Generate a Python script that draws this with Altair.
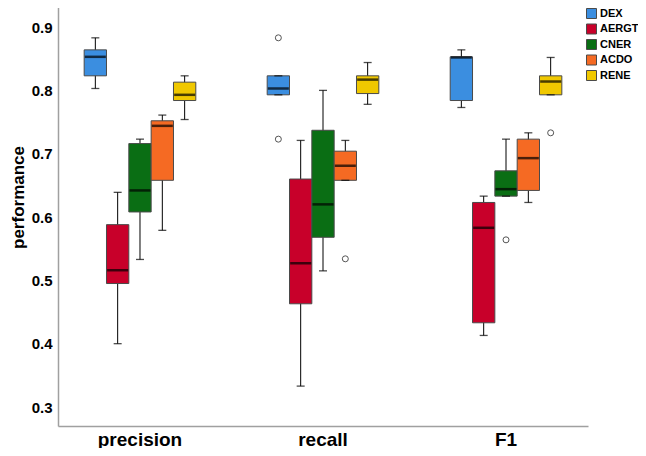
import altair as alt
import pandas as pd

metrics = ["precision", "recall", "F1"]
models = ["DEX", "AERGT", "CNER", "ACDO", "RENE"]
colors = ["#3b8ee0", "#c8002a", "#0a6e14", "#f56a23", "#f0c800"]

# order: precision(DEX..RENE), recall(DEX..RENE), F1(DEX..RENE)
lower_whisker = [0.803, 0.400, 0.533, 0.579, 0.754,
                 0.793, 0.333, 0.515, 0.658, 0.778,
                 0.773, 0.413, 0.633, 0.623, 0.793]
q1 = [0.823, 0.495, 0.608, 0.658, 0.784,
      0.793, 0.463, 0.568, 0.658, 0.795,
      0.784, 0.433, 0.633, 0.642, 0.793]
median = [0.853, 0.516, 0.642, 0.744, 0.793,
          0.803, 0.527, 0.620, 0.681, 0.817,
          0.852, 0.583, 0.644, 0.693, 0.814]
q3 = [0.864, 0.588, 0.716, 0.752, 0.813,
      0.823, 0.660, 0.737, 0.704, 0.823,
      0.853, 0.623, 0.673, 0.723, 0.823]
upper_whisker = [0.883, 0.639, 0.723, 0.761, 0.823,
                 0.823, 0.721, 0.800, 0.721, 0.844,
                 0.864, 0.633, 0.723, 0.733, 0.852]

outlier_metric = ["recall", "recall", "recall", "F1", "F1"]
outlier_model = ["DEX", "DEX", "ACDO", "CNER", "RENE"]
outlier_value = [0.883, 0.723, 0.534, 0.564, 0.733]

y_ticks = [0.3, 0.4, 0.5, 0.6, 0.7, 0.8, 0.9]

boxes = pd.DataFrame({
    "metric": [m for m in metrics for _ in models],
    "model": models * len(metrics),
    "lo": lower_whisker, "q1": q1, "med": median, "q3": q3, "hi": upper_whisker,
})
outliers = pd.DataFrame({"metric": outlier_metric, "model": outlier_model, "value": outlier_value})

FONT = "Liberation Sans"

X = alt.X("metric:N", sort=metrics,
          scale=alt.Scale(paddingInner=0.39, paddingOuter=0.143),
          axis=alt.Axis(title=None, labelAngle=0, labelFontSize=19, labelPadding=4,
                        labelFont=FONT, labelFontWeight="bold", labelColor="black"))
XO = alt.XOffset("model:N", sort=models, scale=alt.Scale(paddingInner=0, paddingOuter=0))
yscale = alt.Scale(domain=[0.27, 0.938], nice=False, zero=False)
yaxis = alt.Axis(values=y_ticks, format=".1f", title="performance",
                 titleFontSize=17, titleFont=FONT, titleFontWeight="bold", titleColor="black",
                 titleX=-31, titleY=194,
                 labelFontSize=15, labelFont=FONT, labelFontWeight="bold", labelColor="black",
                 labelPadding=6)

base = alt.Chart(boxes)

whisk = base.mark_rule(color="black", strokeWidth=1).encode(
    x=X, xOffset=XO, y=alt.Y("lo:Q", scale=yscale, axis=yaxis), y2="hi:Q")

box = base.mark_bar(stroke="#4a4a4a", strokeWidth=1).encode(
    x=X, xOffset=XO, y=alt.Y("q1:Q", scale=yscale), y2="q3:Q",
    color=alt.Color("model:N", sort=models,
                    scale=alt.Scale(domain=models, range=colors),
                    legend=alt.Legend(title=None, orient="none", legendX=528, legendY=5,
                                      symbolType="square", symbolSize=100,
                                      symbolStrokeColor="#4a4a4a", symbolStrokeWidth=1,
                                      symbolOpacity=1,
                                      labelFont=FONT, labelFontSize=11,
                                      labelFontWeight="bold", labelColor="black",
                                      labelOffset=3, rowPadding=0.5, padding=0)))

cap_lo = base.mark_tick(orient="horizontal", size=8, thickness=1.3, color="black").encode(
    x=X, xOffset=XO, y=alt.Y("lo:Q", scale=yscale))
cap_hi = base.mark_tick(orient="horizontal", size=8, thickness=1.3, color="black").encode(
    x=X, xOffset=XO, y=alt.Y("hi:Q", scale=yscale))
med = base.mark_tick(orient="horizontal", size=21, thickness=2.5, color="black").encode(
    x=X, xOffset=XO, y=alt.Y("med:Q", scale=yscale))

outl = alt.Chart(outliers).mark_point(shape="circle", filled=False, size=36,
                                      color="#555555", strokeWidth=1, opacity=1).encode(
    x=X, xOffset=XO, y=alt.Y("value:Q", scale=yscale))

chart = alt.layer(whisk, box, cap_lo, cap_hi, med, outl).properties(
    width=530, height=423,
    autosize=alt.AutoSizeParams(type="none"),
    padding={"left": 50, "top": -5, "right": 50, "bottom": 22},
    background="white",
).configure_view(stroke=None).configure_axis(
    grid=False, ticks=False, domainColor="#a0a0a0", domainWidth=1.5
)

chart.save("out.html", embed_options={"renderer": "svg", "actions": False})
